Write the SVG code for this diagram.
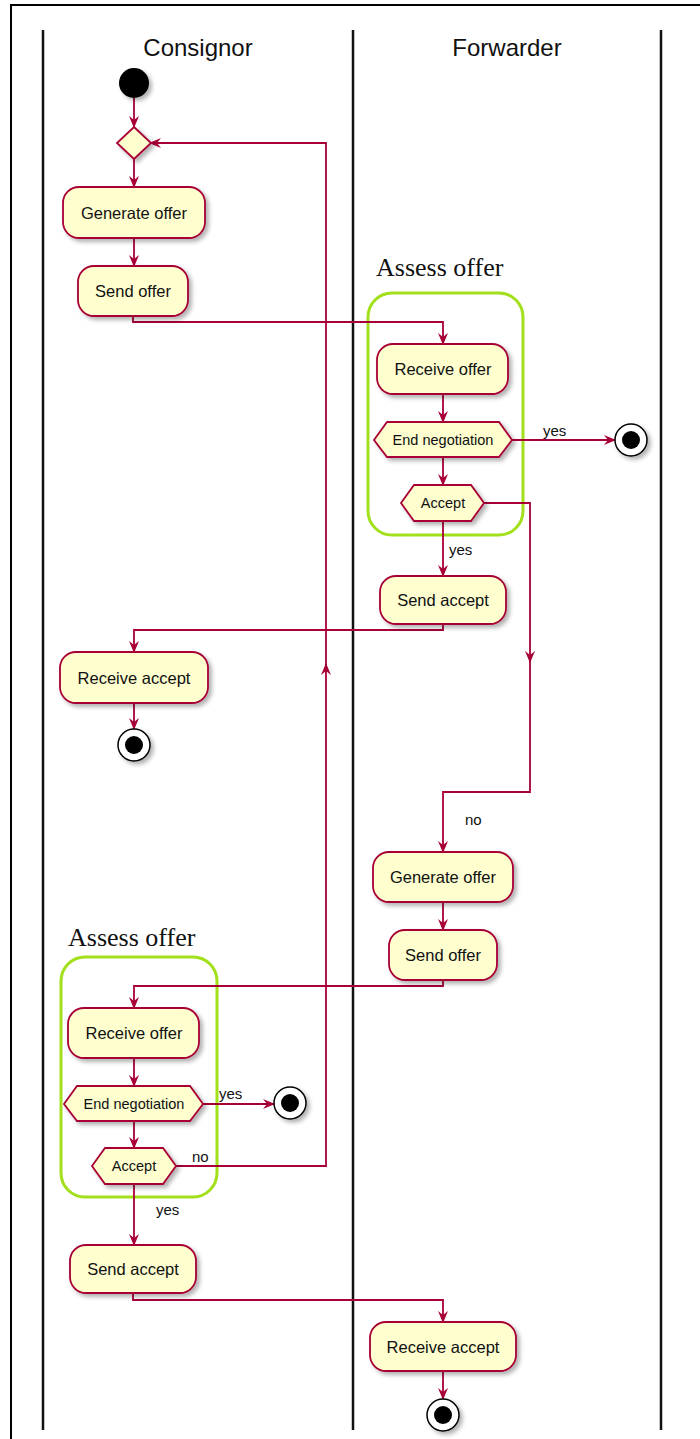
<svg xmlns="http://www.w3.org/2000/svg" width="700" height="1439" viewBox="0 0 700 1439">
<defs>
<filter id="sh" x="-20%" y="-20%" width="150%" height="160%">
<feDropShadow dx="3" dy="3" stdDeviation="2" flood-color="#000" flood-opacity="0.3"/>
</filter>
<marker id="ah" viewBox="0 0 12 10" refX="11" refY="5" markerWidth="12" markerHeight="10" markerUnits="userSpaceOnUse" orient="auto">
<path d="M0,0 L12,5 L0,10 L4,5 Z" fill="#A80036"/>
</marker>
</defs>
<style>
.frame{stroke:#000;stroke-width:2;fill:none}
.lane{stroke:#111;stroke-width:2.5}
.lt{font-family:"Liberation Sans",Arial,sans-serif;font-size:24px;fill:#111;text-anchor:middle}
.box{fill:#FEFECE;stroke:#A80036;stroke-width:1.8;filter:url(#sh)}
.bt{font-family:"Liberation Sans",Arial,sans-serif;font-size:16.5px;fill:#111;text-anchor:middle}
.ht{font-family:"Liberation Sans",Arial,sans-serif;font-size:14.5px;fill:#111;text-anchor:middle}
.lab{font-family:"Liberation Sans",Arial,sans-serif;font-size:15px;fill:#111}
.grp{fill:none;stroke:#A2E01B;stroke-width:3}
.gt{font-family:"Liberation Serif","Times New Roman",serif;font-size:26px;fill:#111}
.c{fill:none;stroke:#A80036;stroke-width:1.8}
.ca{fill:none;stroke:#A80036;stroke-width:1.8;marker-end:url(#ah)}
.endo{fill:#fff;stroke:#000;stroke-width:1.5;filter:url(#sh)}
</style>
<rect width="700" height="1439" fill="#fff"/>
<path class="frame" d="M11,1439 V5 H700"/>
<g id="lanes">
<line class="lane" x1="43" y1="30" x2="43" y2="1430"/>
<line class="lane" x1="353" y1="30" x2="353" y2="1430"/>
<line class="lane" x1="661" y1="30" x2="661" y2="1430"/>
<text class="lt" x="198" y="56">Consignor</text>
<text class="lt" x="507" y="56">Forwarder</text>
</g>
<g id="groups">
<g id="assess-forwarder">
<rect class="grp" x="368" y="293" width="155" height="242" rx="24"/>
<text class="gt" x="376" y="276">Assess offer</text>
</g>
<g id="assess-consignor">
<rect class="grp" x="61" y="957" width="156" height="240" rx="24"/>
<text class="gt" x="68" y="946">Assess offer</text>
</g>
</g>
<g id="connectors">
<path class="ca" d="M134,98 V127"/>
<path class="ca" d="M134,159 V187"/>
<path class="ca" d="M134,238 V266"/>
<path class="ca" d="M133,316 V322 H443 V344"/>
<path class="ca" d="M443,394 V422"/>
<path class="ca" d="M512,440 H615"/>
<path class="ca" d="M443,457 V485"/>
<path class="ca" d="M443,521 V576"/>
<path class="ca" d="M484,503 H530 V662"/>
<path class="ca" d="M530,655 V792 H443 V852"/>
<path class="ca" d="M443,624 V630 H134 V652"/>
<path class="ca" d="M134,703 V729"/>
<path class="ca" d="M443,902 V930"/>
<path class="ca" d="M443,980 V986 H134 V1008"/>
<path class="ca" d="M134,1058 V1086"/>
<path class="ca" d="M203,1104 H274"/>
<path class="ca" d="M134,1121 V1148"/>
<path class="ca" d="M134,1184 V1245"/>
<path class="ca" d="M176,1166 H326 V664"/>
<path class="ca" d="M326,672 V143 H150"/>
<path class="ca" d="M133,1293 V1300 H443 V1322"/>
<path class="ca" d="M443,1371 V1399"/>
<text class="lab" x="543" y="436">yes</text>
<text class="lab" x="449" y="555">yes</text>
<text class="lab" x="465" y="825">no</text>
<text class="lab" x="219" y="1099">yes</text>
<text class="lab" x="192" y="1162">no</text>
<text class="lab" x="156" y="1215">yes</text>
</g>
<g id="start"><circle cx="134" cy="83" r="15" fill="#000" filter="url(#sh)"/></g>
<g id="merge"><polygon class="box" points="134,127 151,143 134,159 117,143"/></g>
<g id="generate-offer-c"><rect class="box" x="63" y="187" width="142" height="51" rx="16"/><text class="bt" x="134" y="219">Generate offer</text></g>
<g id="send-offer-c"><rect class="box" x="78" y="266" width="110" height="50" rx="16"/><text class="bt" x="133" y="297">Send offer</text></g>
<g id="receive-offer-f"><rect class="box" x="377" y="344" width="131" height="50" rx="16"/><text class="bt" x="443" y="375">Receive offer</text></g>
<g id="end-negotiation-f"><polygon class="box" points="374,440 387,422 499,422 512,440 499,457 387,457"/><text class="ht" x="443" y="445">End negotiation</text></g>
<g id="end-f1"><circle class="endo" cx="631" cy="440" r="16"/><circle cx="631" cy="440" r="9" fill="#000"/></g>
<g id="accept-f"><polygon class="box" points="401,503 414,485 471,485 484,503 471,521 414,521"/><text class="ht" x="443" y="508">Accept</text></g>
<g id="send-accept-f"><rect class="box" x="380" y="576" width="126" height="48" rx="16"/><text class="bt" x="443" y="606">Send accept</text></g>
<g id="receive-accept-c"><rect class="box" x="60" y="652" width="148" height="51" rx="16"/><text class="bt" x="134" y="684">Receive accept</text></g>
<g id="end-c1"><circle class="endo" cx="134" cy="745" r="16"/><circle cx="134" cy="745" r="9" fill="#000"/></g>
<g id="generate-offer-f"><rect class="box" x="373" y="852" width="140" height="50" rx="16"/><text class="bt" x="443" y="883">Generate offer</text></g>
<g id="send-offer-f"><rect class="box" x="389" y="930" width="108" height="50" rx="16"/><text class="bt" x="443" y="961">Send offer</text></g>
<g id="receive-offer-c"><rect class="box" x="68" y="1008" width="131" height="50" rx="16"/><text class="bt" x="134" y="1039">Receive offer</text></g>
<g id="end-negotiation-c"><polygon class="box" points="64,1104 77,1086 190,1086 203,1104 190,1121 77,1121"/><text class="ht" x="134" y="1109">End negotiation</text></g>
<g id="end-c2"><circle class="endo" cx="290" cy="1103" r="16"/><circle cx="290" cy="1103" r="9" fill="#000"/></g>
<g id="accept-c"><polygon class="box" points="92,1166 105,1148 163,1148 176,1166 163,1184 105,1184"/><text class="ht" x="134" y="1171">Accept</text></g>
<g id="send-accept-c"><rect class="box" x="70" y="1245" width="126" height="48" rx="16"/><text class="bt" x="133" y="1275">Send accept</text></g>
<g id="receive-accept-f"><rect class="box" x="370" y="1322" width="146" height="49" rx="16"/><text class="bt" x="443" y="1353">Receive accept</text></g>
<g id="end-f2"><circle class="endo" cx="443" cy="1415" r="16"/><circle cx="443" cy="1415" r="9" fill="#000"/></g>
</svg>
